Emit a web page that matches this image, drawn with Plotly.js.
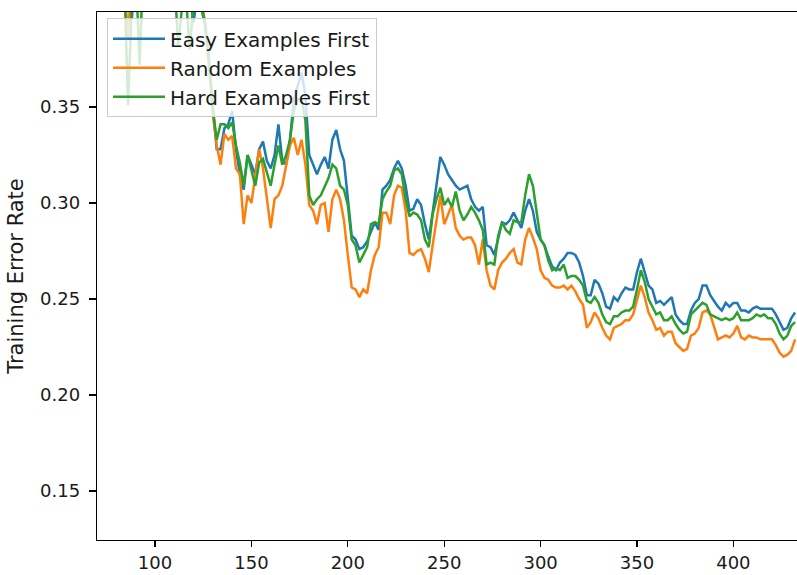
<!DOCTYPE html>
<html>
<head>
<meta charset="utf-8">
<script src="https://cdn.plot.ly/plotly-3.0.1.min.js"></script>
<style>
  html, body { margin: 0; padding: 0; background: #ffffff; overflow: hidden; }
  #chart { width: 797px; height: 575px; }
</style>
</head>
<body>
<div id="chart"></div>
<script>
// Training error rate per epoch, sampled every 2 epochs starting at epoch 84.
const firstEpoch = 84;
const epochStep = 2;

const seriesNames = ["Easy Examples First", "Random Examples", "Hard Examples First"];
const seriesColors = ["#1f77b4", "#ff7f0e", "#2ca02c"];

const easyFirst = [
  0.432, 0.418, 0.396, 0.425, 0.438, 0.445, 0.440, 0.448, 0.442, 0.436,
  0.441, 0.447, 0.439, 0.430, 0.425, 0.418, 0.412, 0.408, 0.394, 0.410,
  0.402, 0.392, 0.375, 0.351, 0.328, 0.328, 0.339, 0.341, 0.348, 0.328,
  0.315, 0.307, 0.325, 0.320, 0.315, 0.328, 0.332, 0.322, 0.318, 0.325,
  0.341, 0.322, 0.320, 0.333, 0.354, 0.361, 0.368, 0.356, 0.325, 0.320,
  0.315, 0.320, 0.324, 0.318, 0.333, 0.338, 0.328, 0.322, 0.304, 0.283,
  0.281, 0.276, 0.277, 0.280, 0.285, 0.290, 0.286, 0.307, 0.309, 0.312,
  0.318, 0.322, 0.318, 0.309, 0.296, 0.297, 0.302, 0.299, 0.289, 0.281,
  0.295, 0.310, 0.324, 0.320, 0.315, 0.312, 0.309, 0.307, 0.308, 0.309,
  0.302, 0.298, 0.296, 0.298, 0.278, 0.277, 0.273, 0.282, 0.290, 0.289,
  0.291, 0.295, 0.291, 0.287, 0.296, 0.302, 0.296, 0.285, 0.281, 0.278,
  0.272, 0.267, 0.265, 0.269, 0.271, 0.274, 0.274, 0.273, 0.269, 0.262,
  0.252, 0.252, 0.260, 0.258, 0.253, 0.246, 0.245, 0.251, 0.249, 0.253,
  0.256, 0.255, 0.255, 0.264, 0.271, 0.264, 0.257, 0.255, 0.248, 0.249,
  0.247, 0.249, 0.251, 0.242, 0.239, 0.237, 0.237, 0.244, 0.248, 0.250,
  0.257, 0.257, 0.252, 0.249, 0.246, 0.244, 0.248, 0.246, 0.248, 0.248,
  0.244, 0.244, 0.243, 0.245, 0.246, 0.245, 0.245, 0.245, 0.245, 0.242,
  0.238, 0.234, 0.235, 0.240, 0.243
];

const randomOrder = [
  0.415, 0.386, 0.421, 0.432, 0.440, 0.446, 0.438, 0.445, 0.450, 0.441,
  0.437, 0.444, 0.436, 0.428, 0.420, 0.415, 0.410, 0.412, 0.405, 0.412,
  0.408, 0.393, 0.372, 0.346, 0.330, 0.320, 0.336, 0.333, 0.335, 0.318,
  0.315, 0.289, 0.304, 0.300, 0.315, 0.328, 0.318, 0.303, 0.287, 0.302,
  0.304, 0.309, 0.320, 0.330, 0.334, 0.325, 0.333, 0.320, 0.299, 0.296,
  0.289, 0.299, 0.300, 0.285, 0.302, 0.307, 0.302, 0.291, 0.273, 0.256,
  0.255, 0.251, 0.255, 0.253, 0.265, 0.273, 0.277, 0.295, 0.295, 0.289,
  0.304, 0.309, 0.308, 0.296, 0.274, 0.273, 0.275, 0.276, 0.271, 0.264,
  0.278, 0.291, 0.304, 0.289, 0.294, 0.299, 0.287, 0.283, 0.281, 0.282,
  0.282, 0.278, 0.268, 0.281, 0.265, 0.257, 0.255, 0.265, 0.269, 0.271,
  0.274, 0.276, 0.269, 0.268, 0.281, 0.287, 0.282, 0.276, 0.265, 0.261,
  0.260, 0.257, 0.256, 0.256, 0.257, 0.255, 0.257, 0.254, 0.250, 0.247,
  0.235, 0.238, 0.243, 0.240, 0.235, 0.231, 0.229, 0.235, 0.236, 0.237,
  0.239, 0.239, 0.242, 0.249, 0.257, 0.251, 0.243, 0.239, 0.234, 0.235,
  0.231, 0.233, 0.233, 0.227, 0.225, 0.223, 0.224, 0.231, 0.232, 0.235,
  0.243, 0.244, 0.242, 0.236, 0.229, 0.230, 0.231, 0.230, 0.232, 0.236,
  0.230, 0.229, 0.231, 0.230, 0.230, 0.229, 0.229, 0.229, 0.229, 0.226,
  0.222, 0.220, 0.221, 0.223, 0.229
];

const hardFirst = [
  0.420, 0.351, 0.405, 0.422, 0.372, 0.428, 0.440, 0.446, 0.438, 0.444,
  0.437, 0.430, 0.426, 0.418, 0.382, 0.402, 0.408, 0.380, 0.405, 0.410,
  0.402, 0.394, 0.372, 0.348, 0.333, 0.341, 0.341, 0.339, 0.342, 0.330,
  0.321, 0.309, 0.325, 0.317, 0.309, 0.321, 0.323, 0.316, 0.309, 0.320,
  0.330, 0.320, 0.325, 0.333, 0.348, 0.354, 0.354, 0.343, 0.304, 0.299,
  0.302, 0.304, 0.309, 0.313, 0.320, 0.318, 0.309, 0.307, 0.299, 0.281,
  0.278, 0.269, 0.273, 0.277, 0.289, 0.290, 0.289, 0.302, 0.306, 0.309,
  0.317, 0.318, 0.315, 0.302, 0.293, 0.295, 0.294, 0.291, 0.281, 0.277,
  0.294, 0.302, 0.308, 0.299, 0.302, 0.298, 0.306, 0.296, 0.291, 0.294,
  0.298, 0.295, 0.291, 0.286, 0.268, 0.269, 0.268, 0.283, 0.290, 0.286,
  0.284, 0.291, 0.290, 0.290, 0.304, 0.315, 0.309, 0.295, 0.281, 0.278,
  0.270, 0.265, 0.266, 0.265, 0.268, 0.261, 0.262, 0.262, 0.260, 0.257,
  0.249, 0.248, 0.251, 0.248, 0.242, 0.238, 0.237, 0.241, 0.241, 0.243,
  0.244, 0.244, 0.246, 0.255, 0.265, 0.259, 0.250, 0.246, 0.242, 0.243,
  0.239, 0.239, 0.241, 0.237, 0.234, 0.232, 0.233, 0.242, 0.244, 0.246,
  0.248, 0.247, 0.242, 0.241, 0.240, 0.239, 0.240, 0.239, 0.240, 0.243,
  0.239, 0.239, 0.239, 0.240, 0.242, 0.241, 0.242, 0.240, 0.240, 0.237,
  0.232, 0.229, 0.231, 0.236, 0.238
];

const xTickValues = [100, 150, 200, 250, 300, 350, 400];
const yTickValues = [0.15, 0.20, 0.25, 0.30, 0.35];

const allSeries = [easyFirst, randomOrder, hardFirst];

const traces = allSeries.map((values, i) => ({
  type: "scatter",
  mode: "lines",
  name: seriesNames[i],
  x0: firstEpoch,
  dx: epochStep,
  y: values,
  line: { color: seriesColors[i], width: 2.5 },
  legendgroup: "g" + i
}));

const fontFamily = "DejaVu Sans, Liberation Sans, sans-serif";

const layout = {
  width: 797,
  height: 575,
  margin: { l: 97, r: 0, t: 12, b: 35, pad: 0 },
  paper_bgcolor: "#ffffff",
  plot_bgcolor: "#ffffff",
  font: { family: fontFamily, size: 18, color: "#000000" },
  showlegend: true,
  legend: {
    x: 0.0143,
    y: 0.988,
    xanchor: "left",
    yanchor: "top",
    bgcolor: "rgba(255,255,255,0.8)",
    bordercolor: "#cccccc",
    borderwidth: 1,
    font: { family: fontFamily, size: 20, color: "#1a1a1a" },
    itemwidth: 52,
    tracegroupgap: 1,
    traceorder: "normal"
  },
  xaxis: {
    range: [69.9, 433],
    tickvals: xTickValues,
    ticktext: xTickValues.map(String),
    ticks: "outside",
    ticklen: 6,
    tickwidth: 1.2,
    tickcolor: "#000000",
    showgrid: false,
    zeroline: false,
    showline: true,
    linecolor: "#000000",
    linewidth: 1.3,
    mirror: true,
    tickfont: { family: fontFamily, size: 18, color: "#1a1a1a" }
  },
  yaxis: {
    range: [0.1245, 0.3995],
    tickvals: yTickValues,
    ticktext: yTickValues.map(v => v.toFixed(2)),
    ticks: "outside",
    ticklen: 7,
    tickwidth: 1.2,
    tickcolor: "#000000",
    ticklabelstandoff: 5,
    showgrid: false,
    zeroline: false,
    showline: true,
    linecolor: "#000000",
    linewidth: 1.3,
    mirror: false,
    tickfont: { family: fontFamily, size: 18, color: "#1a1a1a" },
    title: {
      text: "Training Error Rate",
      font: { family: fontFamily, size: 21, color: "#1a1a1a" },
      standoff: 10
    }
  }
};

Plotly.newPlot("chart", traces, layout, { displayModeBar: false, staticPlot: true });
</script>
</body>
</html>
